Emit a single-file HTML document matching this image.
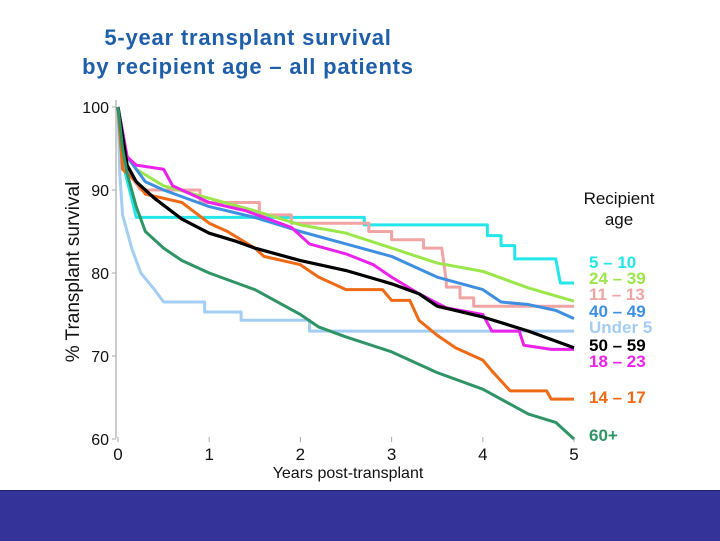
<!DOCTYPE html>
<html><head><meta charset="utf-8"><style>
body{margin:0;width:720px;height:540px;background:#fff;overflow:hidden;font-family:"Liberation Sans",Arial,sans-serif;position:relative}
.t{position:absolute;left:0;width:496px;text-align:center;font-size:22px;font-weight:bold;color:#1f5ea8;line-height:26px;letter-spacing:0.8px}
#band{position:absolute;left:0;top:490px;width:720px;height:50px;background:#333399;border-top:1px solid #222266}
</style></head><body>
<div class="t" style="top:25px">5-year transplant survival</div>
<div class="t" style="top:54px">by recipient age – all patients</div>
<svg id="c" width="720" height="490" style="position:absolute;left:0;top:0"></svg>
<div id="band"></div>
<script>
const yTicks=[100,90,80,70,60];
const xTicks=[0,1,2,3,4,5];
const seriesNames=["5 – 10","24 – 39","11 – 13","40 – 49","Under 5","50 – 59","18 – 23","14 – 17","60+"];
const seriesColors=["#22e6ea","#9be64a","#f0a4a4","#3f8fe0","#a3cdf2","#000000","#ea22ea","#ee6a14","#2f9466"];
const years0=[0,0.03,0.08,0.15,0.2,2.7,2.7,4.05,4.05,4.2,4.2,4.35,4.35,4.8,4.85,5];
const vals0=[100,95,92,89,86.7,86.7,85.8,85.8,84.5,84.5,83.3,83.3,81.7,81.7,78.8,78.8];
const years1=[0,0.1,0.2,0.5,1,1.5,2,2.5,3,3.5,4,4.5,5];
const vals1=[100,94,92.5,90.5,89,87.5,85.8,84.8,83,81.2,80.2,78.2,76.6];
const years2=[0,0.05,0.25,0.9,0.9,1.55,1.55,1.9,1.9,2.75,2.75,3.0,3.0,3.35,3.35,3.55,3.6,3.6,3.75,3.75,3.9,3.9,5];
const vals2=[100,93,90,90,88.5,88.5,87,87,86,86,85,85,84,84,83,83,79,78.3,78.3,77,77,76,76];
const years3=[0,0.1,0.3,0.5,1,1.5,2,2.5,3,3.5,4,4.2,4.5,4.8,5];
const vals3=[100,94,91,90,88,86.7,85,83.5,82,79.5,78,76.5,76.2,75.5,74.5];
const years4=[0,0.02,0.05,0.1,0.15,0.25,0.4,0.5,0.95,0.95,1.35,1.35,2.1,2.1,5];
const vals4=[100,92,87,85,83,80,78,76.5,76.5,75.3,75.3,74.3,74.3,73,73];
const years5=[0,0.1,0.2,0.4,0.7,1,1.3,1.5,2,2.5,3,3.3,3.5,4,4.5,5];
const vals5=[100,93,91,89,86.5,84.8,83.8,83,81.5,80.3,78.7,77.5,76,74.7,73,71];
const years6=[0,0.1,0.2,0.5,0.6,0.8,1,1.4,1.9,2.1,2.5,2.8,3,3.3,3.6,4,4.1,4.4,4.45,4.75,5];
const vals6=[100,94,93,92.5,90.5,89.5,88.5,87.5,85.5,83.5,82.3,81,79.5,77.5,75.8,75,73,73,71.3,70.8,70.8];
const years7=[0,0.05,0.2,0.3,0.7,1,1.2,1.5,1.6,2,2.2,2.5,2.9,3,3.2,3.3,3.5,3.7,4,4.1,4.2,4.3,4.7,4.75,5];
const vals7=[100,92.5,91,89.5,88.5,86,85,83,82,81,79.5,78,78,76.7,76.7,74.3,72.5,71,69.5,68.2,67,65.8,65.8,64.8,64.8];
const years8=[0,0.05,0.1,0.2,0.3,0.5,0.7,1,1.5,2,2.2,2.5,3,3.5,4,4.5,4.8,5];
const vals8=[100,95,92,88,85,83,81.5,80,78,75,73.5,72.3,70.5,68,66,63,62,60];
const allYears=[years0,years1,years2,years3,years4,years5,years6,years7,years8];
const allVals=[vals0,vals1,vals2,vals3,vals4,vals5,vals6,vals7,vals8];
const labelY=[262,278,294,311,327,345,361,397,435];
const drawOrder=[4,0,2,1,3,6,7,5,8];

const NS="http://www.w3.org/2000/svg",svg=document.getElementById('c');
const X=v=>118+v*91.2, Y=v=>107+(100-v)*8.3;
function mk(t,a,txt){const e=document.createElementNS(NS,t);for(const k in a)e.setAttribute(k,a[k]);if(txt!=null)e.textContent=txt;svg.appendChild(e);return e;}
let e=mk('line',{x1:116,y1:100,x2:116,y2:438,stroke:'#aaa','stroke-width':1.2});


yTicks.forEach(v=>{
 let l=mk('line',{x1:112,y1:Y(v),x2:116,y2:Y(v),stroke:'#aaa'});
 
 
 let t=mk('text',{x:109,y:Y(v)+6,'text-anchor':'end','font-size':16,fill:'#111'},v);
 
 
});
xTicks.forEach(v=>{
 let l=mk('line',{x1:X(v),y1:437,x2:X(v),y2:442,stroke:'#aaa'});
 
 
 let t=mk('text',{x:X(v),y:460,'text-anchor':'middle','font-size':17,fill:'#111'},v);
 
 
});
let xt=mk('text',{x:348,y:478,'text-anchor':'middle','font-size':16,fill:'#111'},'Years post-transplant');


let yt=mk('text',{x:0,y:0,'text-anchor':'middle','font-size':19,fill:'#111',transform:'translate(79,272) rotate(-90)'},'% Transplant survival');


drawOrder.forEach(i=>{
 const pts=allYears[i].map((y,j)=>X(y)+','+Y(allVals[i][j])).join(' ');
 let p=mk('polyline',{points:pts,fill:'none',stroke:seriesColors[i],'stroke-width':i==5?3.2:3,'stroke-linejoin':'round'});
 
 
});
let lt=mk('text',{x:619,y:204,'text-anchor':'middle','font-size':17,fill:'#111'},'Recipient');


let lt2=mk('text',{x:619,y:225,'text-anchor':'middle','font-size':17,fill:'#111'},'age');


seriesNames.forEach((n,i)=>{
 let t=mk('text',{x:589,y:labelY[i]+6,'font-size':17,'font-weight':'bold',fill:seriesColors[i]},n);
 
 
});
</script>
</body></html>
